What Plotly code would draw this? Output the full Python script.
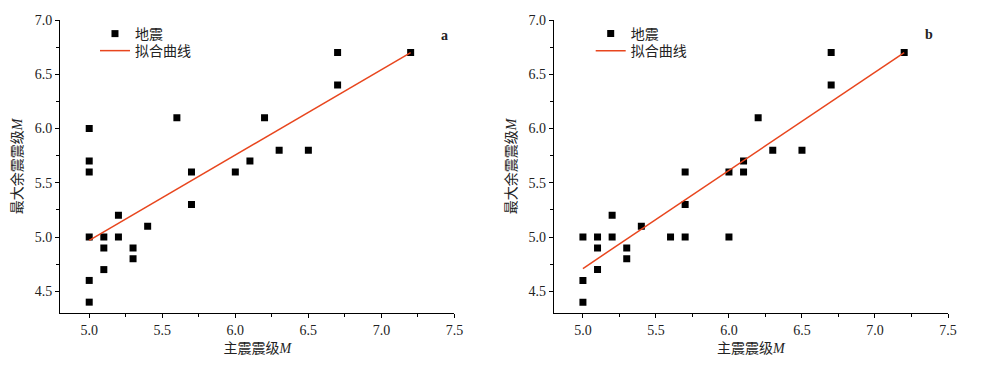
import plotly.graph_objects as go

# ---- data ----
main_mag_a = [5.0, 5.0, 5.0, 5.0, 5.0, 5.0, 5.1, 5.1, 5.1, 5.2, 5.2, 5.3, 5.3,
              5.4, 5.6, 5.7, 5.7, 6.0, 6.1, 6.2, 6.3, 6.5, 6.7, 6.7, 7.2]
after_mag_a = [6.0, 5.7, 5.6, 5.0, 4.6, 4.4, 5.0, 4.9, 4.7, 5.2, 5.0, 4.9, 4.8,
               5.1, 6.1, 5.6, 5.3, 5.6, 5.7, 6.1, 5.8, 5.8, 6.7, 6.4, 6.7]

main_mag_b = [5.0, 5.0, 5.0, 5.1, 5.1, 5.1, 5.2, 5.2, 5.3, 5.3, 5.4, 5.6, 5.7,
              5.7, 5.7, 6.0, 6.0, 6.1, 6.1, 6.2, 6.3, 6.5, 6.7, 6.7, 7.2]
after_mag_b = [5.0, 4.6, 4.4, 5.0, 4.9, 4.7, 5.2, 5.0, 4.9, 4.8, 5.1, 5.0, 5.6,
               5.3, 5.0, 5.6, 5.0, 5.7, 5.6, 6.1, 5.8, 5.8, 6.7, 6.4, 6.7]

fit_x = [5.0, 7.2]
fit_y_a = [4.97, 6.70]
fit_y_b = [4.71, 6.70]

x_ticks = [5.0, 5.5, 6.0, 6.5, 7.0, 7.5]
y_ticks = [4.5, 5.0, 5.5, 6.0, 6.5, 7.0]

name_pts = "地震"
name_fit = "拟合曲线"
x_title = "主震震级<i>M</i>"
y_title = "最大余震震级<i>M</i>"
panel_labels = ["a", "b"]

W, H = 982, 367
OFF = 8  # page body margin in the browser
FONT = "Liberation Serif, Times New Roman, Noto Sans CJK SC"
LINE_COLOR = "#E8461E"

# plot-area box in figure pixels (screen position minus page offset)
L, R, T, B = 60 - OFF, 948.5 - OFF, 20 - OFF, 312.7 - OFF
PW, PH = R - L, B - T

def px(x):  # screen px -> paper
    return (x - OFF - L) / PW

def py(y):
    return (B - (y - OFF)) / PH

fig = go.Figure()

legends = [("legend", "legend2"), ("legend3", "legend4")]
for i, (xs, ys, fy) in enumerate([(main_mag_a, after_mag_a, fit_y_a),
                                   (main_mag_b, after_mag_b, fit_y_b)]):
    xa = "x" if i == 0 else "x2"
    ya = "y" if i == 0 else "y2"
    fig.add_trace(go.Scatter(x=xs, y=ys, mode="markers", name=name_pts,
                             marker=dict(symbol="square", size=7, color="black"),
                             xaxis=xa, yaxis=ya, legend=legends[i][0]))
    fig.add_trace(go.Scatter(x=fit_x, y=fy, mode="lines", name=name_fit,
                             line=dict(color=LINE_COLOR, width=1.5),
                             xaxis=xa, yaxis=ya, legend=legends[i][1]))

axis_common = dict(showgrid=False, zeroline=False, showline=True, linecolor="black",
                   linewidth=1, ticks="outside", ticklen=4, tickcolor="black",
                   tickfont=dict(family=FONT, size=14, color="#222"),
                   tickformat=".1f",
                   minor=dict(ticks="outside", ticklen=3, dtick=0.25, tickcolor="black"))

for i, (x0, x1) in enumerate([(60, 454.7), (554, 948.5)]):
    sfx = "" if i == 0 else "2"
    fig.layout["xaxis" + sfx] = dict(axis_common, domain=[max(0, px(x0)), min(1, px(x1))],
                                     range=[4.8, 7.5], tickvals=x_ticks, anchor="y" + sfx,
                                     title=dict(text=x_title, standoff=6,
                                                font=dict(family=FONT, size=14, color="#222")))
    fig.layout["yaxis" + sfx] = dict(axis_common, domain=[0, 1], range=[4.3, 7.0],
                                     tickvals=y_ticks, anchor="x" + sfx,
                                     title=dict(text=y_title, standoff=8,
                                                font=dict(family=FONT, size=14, color="#222")))

leg_common = dict(xanchor="left", yanchor="middle", bgcolor="rgba(0,0,0,0)",
                  font=dict(family=FONT, size=14, color="#222"), borderwidth=0)
fig.update_layout(
    legend=dict(leg_common, x=px(95), y=py(34)),
    legend2=dict(leg_common, x=px(95), y=py(51)),
    legend3=dict(leg_common, x=px(591), y=py(34)),
    legend4=dict(leg_common, x=px(591), y=py(51)),
)

for lab, (lx, ly) in zip(panel_labels, [(445, 35), (929, 34)]):
    fig.add_annotation(text="<b>" + lab + "</b>", x=px(lx), y=py(ly),
                       xref="paper", yref="paper", xanchor="center", yanchor="middle",
                       showarrow=False, font=dict(family=FONT, size=14, color="#222"))

fig.update_layout(width=W, height=H,
                  margin=dict(l=L, r=W - R, t=T, b=H - B, autoexpand=False),
                  plot_bgcolor="white", paper_bgcolor="white", showlegend=True)

fig.write_html("out.html")
